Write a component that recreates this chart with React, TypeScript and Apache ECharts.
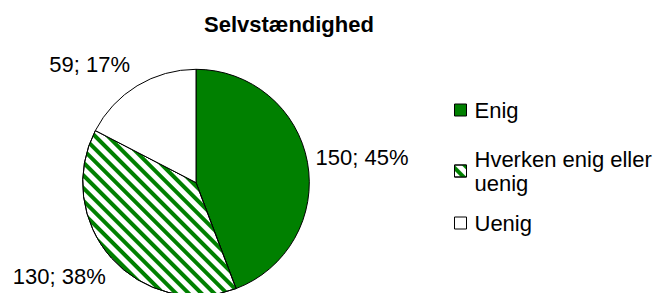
import React, { useEffect, useRef } from "react";
import * as echarts from "echarts";

const title = "Selvstændighed";
const categories = ["Enig", "Hverken enig eller uenig", "Uenig"];
const legendTexts = ["Enig", "Hverken enig eller\nuenig", "Uenig"];
const values = [150, 130, 59];
const percentLabels = ["45%", "38%", "17%"];

const GREEN = "#008000";
const FONT = "'Liberation Sans', Arial, sans-serif";

// per-slice label offsets (label line lengths, line hidden)
const labelLineLen = [29, 28.6, 25.5];
const labelLineLen2 = [-25.5, -20.8, -11.2];

export default function App() {
  const ref = useRef<HTMLDivElement>(null);
  useEffect(() => {
    document.body.style.margin = "0";
    const chart = echarts.init(ref.current!, null, { renderer: "svg" });
    const itemStyles = [
      { color: GREEN },
      {
        color: "#ffffff",
        decal: {
          symbol: "rect",
          symbolSize: 1,
          dashArrayX: [1, 0],
          dashArrayY: [3.5, 4.7],
          rotation: Math.PI / 4,
          color: GREEN,
        },
      },
      { color: "#ffffff" },
    ];
    const legendTops = [98, 135, 211];
    chart.setOption({
      animation: false,
      backgroundColor: "#ffffff",
      title: {
        text: title,
        left: 204,
        top: 11,
        padding: 0,
        textStyle: { fontFamily: FONT, fontSize: 22, fontWeight: "bold", color: "#000", lineHeight: 26 },
      },
      legend: categories.map((c, i) => ({
        data: [c],
        orient: "vertical",
        left: 454,
        top: legendTops[i],
        padding: 0,
        itemWidth: 12,
        itemHeight: 12,
        selectedMode: false,
        icon: "rect",
        itemStyle: { borderColor: "#000", borderWidth: 1 },
        formatter: () => legendTexts[i],
        textStyle: {
          fontFamily: FONT,
          fontSize: 22,
          color: "#000",
          lineHeight: 24,
          padding: i === 1 ? [24, 0, 0, 3] : [0, 0, 0, 3],
        },
      })),
      series: [
        {
          type: "pie",
          center: [196, 182.6],
          radius: 113.3,
          startAngle: 90,
          clockwise: true,
          avoidLabelOverlap: false,
          emphasis: { disabled: true },
          itemStyle: { borderColor: "#000", borderWidth: 1 },
          label: {
            show: true,
            position: "outside",
            fontFamily: FONT,
            fontSize: 22,
            color: "#000",
            distanceToLabelLine: 5,
          },
          data: categories.map((c, i) => ({
            name: c,
            value: values[i],
            itemStyle: itemStyles[i],
            label: { formatter: () => `${values[i]}; ${percentLabels[i]}` },
            labelLine: { show: false, length: labelLineLen[i], length2: labelLineLen2[i] },
          })),
        },
      ],
    });
    return () => chart.dispose();
  }, []);
  return <div ref={ref} style={{ width: 654, height: 293 }} />;
}
